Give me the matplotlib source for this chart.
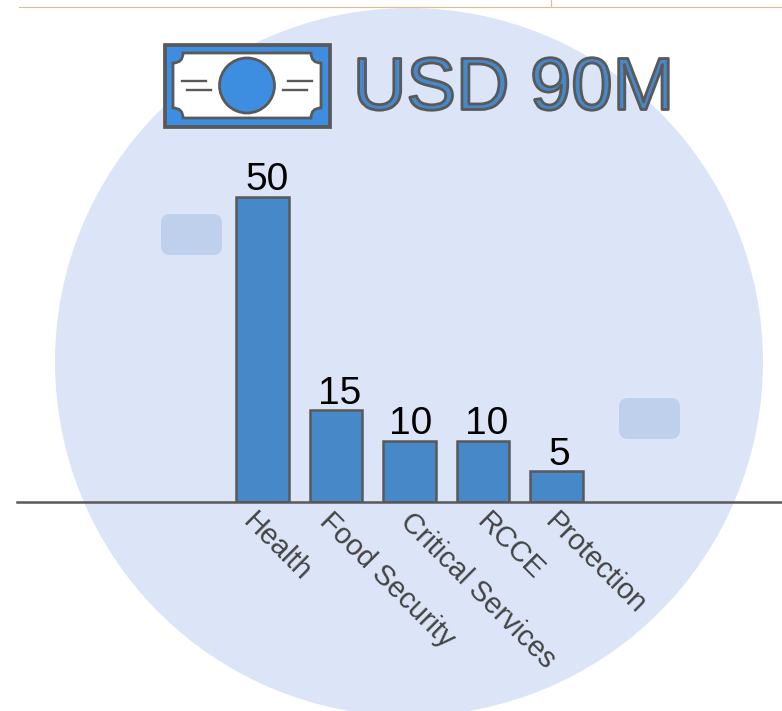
import matplotlib
matplotlib.use("Agg")
import matplotlib.pyplot as plt
import matplotlib.patheffects as pe
from matplotlib.patches import Circle, FancyBboxPatch, PathPatch, Rectangle
from matplotlib.path import Path
from matplotlib.transforms import ScaledTranslation

plt.rcParams["font.family"] = ["Liberation Sans", "DejaVu Sans"]

categories = ["Health", "Food Security", "Critical Services", "RCCE", "Protection"]
values = [50, 15, 10, 10, 5]
total_label = "USD 90M"

BLUE = "#4688c8"
BRIGHT = "#3d8ee0"
EDGE = "#595959"

fig = plt.figure(figsize=(7.82, 7.11), dpi=100)

# background layer in pixel coordinates
bg = fig.add_axes([0, 0, 1, 1])
bg.set_xlim(0, 782)
bg.set_ylim(711, 0)
bg.axis("off")

bg.add_patch(Circle((409, 362), 354, fc="#dce5f8", ec="none"))
bg.plot([19, 782], [7, 7], color="#e8b88f", lw=0.8)
bg.plot([551, 551], [0, 7], color="#e8b88f", lw=0.8)

for x, y in [(161, 214), (619, 398)]:
    bg.add_patch(FancyBboxPatch((x + 9, y + 9), 43, 23, boxstyle="round,pad=9,rounding_size=9",
                                fc="#bfd0ec", ec="none"))

# bank note icon
bg.add_patch(Rectangle((164.5, 44.5), 165, 82, fc=BRIGHT, ec=EDGE, lw=2.7))
l, r, t, b, n = 173, 321, 53, 118, 10
verts = [(l + n, t), (r - n, t), (r - n, t + n), (r, t + n), (r, b - n), (r - n, b - n), (r - n, b),
         (l + n, b), (l + n, b - n), (l, b - n), (l, t + n), (l + n, t + n), (l + n, t), (l + n, t)]
codes = [Path.MOVETO, Path.LINETO, Path.CURVE3, Path.CURVE3, Path.LINETO, Path.CURVE3, Path.CURVE3,
         Path.LINETO, Path.CURVE3, Path.CURVE3, Path.LINETO, Path.CURVE3, Path.CURVE3, Path.CLOSEPOLY]
bg.add_patch(PathPatch(Path(verts, codes), fc="white", ec=EDGE, lw=2))
bg.add_patch(Circle((247, 85.5), 27.5, fc=BRIGHT, ec=EDGE, lw=2))
for x0, x1, y in [(182, 206, 81), (187, 211, 90), (288, 312, 81), (283, 307, 90)]:
    bg.plot([x0, x1], [y, y], color=EDGE, lw=1.7)

bg.text(513.5, 90, total_label, fontsize=53.4, color=BLUE, ha="center", va="center",
        path_effects=[pe.Stroke(linewidth=2, foreground=EDGE)])

# bars
ax = fig.add_axes([17 / 782, (711 - 502) / 711, 765 / 782, 352 / 711])
ax.patch.set_alpha(0)
xs = list(range(len(categories)))
ax.bar(xs, values, width=0.715, color=BLUE, edgecolor=EDGE, linewidth=1.8)
ax.set_xlim(-3.34, 7.068)
ax.set_ylim(0, 57.7)
ax.set_yticks([])
for side in ["top", "left", "right"]:
    ax.spines[side].set_visible(False)
ax.spines["bottom"].set_color(EDGE)
ax.spines["bottom"].set_linewidth(1.8)
ax.set_xticks(xs)
labels = ax.set_xticklabels(categories, rotation=-45, ha="left", rotation_mode="anchor", fontsize=20.8, color="#434343")
ax.tick_params(axis="x", length=0, pad=4)

# the labels are not evenly placed under their bars in the original
label_shift = [-5, -2, 5, 8, 3]
for lab, dx in zip(labels, label_shift):
    lab.set_transform(lab.get_transform() + ScaledTranslation(dx / 100, 0, fig.dpi_scale_trans))

value_shift = [5, 4, 1, 4, 3]
for x, v, dx in zip(xs, values, value_shift):
    ax.annotate(str(v), (x, v), xytext=(dx * 0.72, -1), textcoords="offset points",
                ha="center", va="bottom", fontsize=28, color="black")

fig.savefig("out.png", dpi=100)
plt.close()
